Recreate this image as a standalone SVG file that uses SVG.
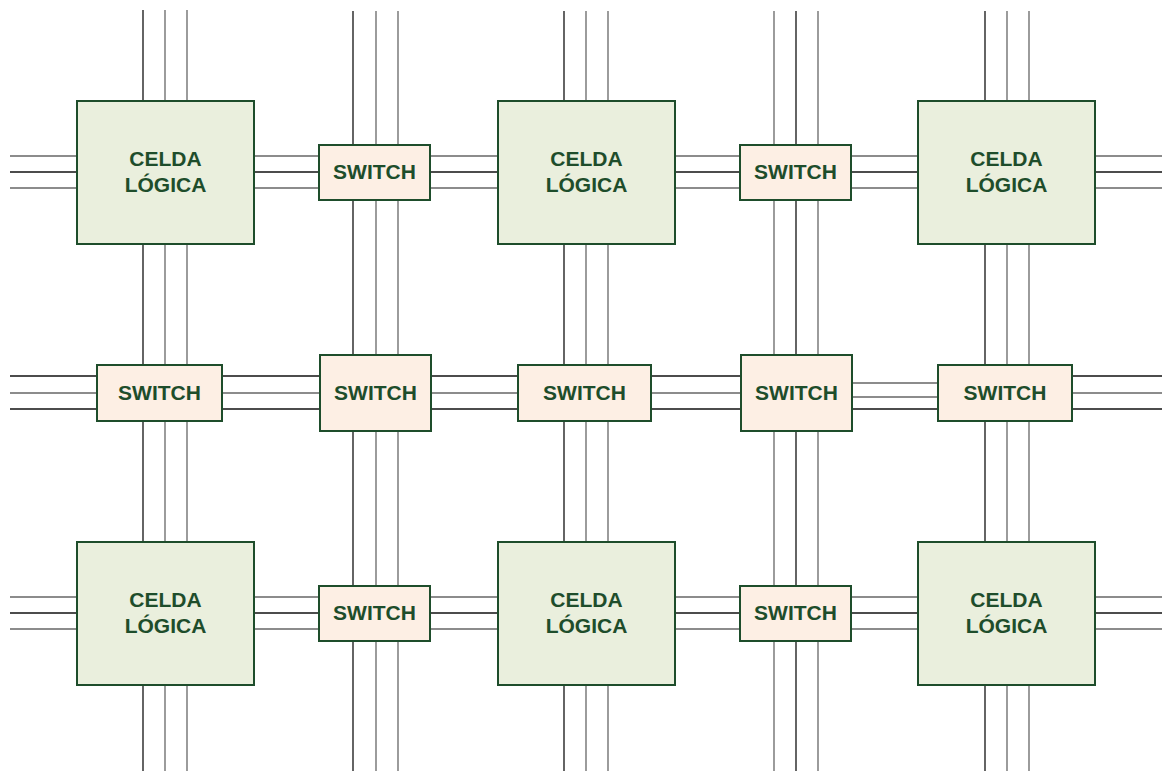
<svg xmlns="http://www.w3.org/2000/svg" width="1162" height="771" viewBox="0 0 1162 771">
<style>
.k{stroke:#111;stroke-width:1.3;fill:none}
.g{stroke:#666;stroke-width:1.3;fill:none}
.cell{fill:#eaefdd;stroke:#1e4d2b;stroke-width:2}
.sw{fill:#fdefe4;stroke:#1e4d2b;stroke-width:2}
text{font-family:"Liberation Sans",Arial,sans-serif;font-weight:bold;font-size:21px;fill:#1e4d2b;text-anchor:middle}
</style>
<rect width="1162" height="771" fill="#fff"/>
<g id="connectors">
<!-- vertical wire bundles -->
<line class="k" x1="143" y1="10" x2="143" y2="771"/><line class="g" x1="165" y1="10" x2="165" y2="771"/><line class="g" x1="187" y1="10" x2="187" y2="771"/>
<line class="k" x1="353" y1="11" x2="353" y2="771"/><line class="g" x1="376" y1="11" x2="376" y2="771"/><line class="g" x1="398" y1="11" x2="398" y2="771"/>
<line class="k" x1="564" y1="11" x2="564" y2="771"/><line class="g" x1="586" y1="11" x2="586" y2="771"/><line class="g" x1="608" y1="11" x2="608" y2="771"/>
<line class="g" x1="774" y1="11" x2="774" y2="771"/><line class="k" x1="796" y1="11" x2="796" y2="771"/><line class="g" x1="818" y1="11" x2="818" y2="771"/>
<line class="k" x1="985" y1="11" x2="985" y2="771"/><line class="g" x1="1007" y1="11" x2="1007" y2="771"/><line class="g" x1="1029" y1="11" x2="1029" y2="771"/>
<!-- top row -->
<line class="g" x1="10" y1="156" x2="1162" y2="156"/><line class="k" x1="10" y1="172" x2="1162" y2="172"/><line class="g" x1="10" y1="188" x2="1162" y2="188"/>
<!-- middle row -->
<line class="k" x1="10" y1="376" x2="790" y2="376"/><line class="g" x1="10" y1="393" x2="790" y2="393"/><line class="k" x1="10" y1="409" x2="1162" y2="409"/>
<line class="g" x1="851" y1="383" x2="939" y2="383"/><line class="g" x1="851" y1="397" x2="939" y2="397"/>
<line class="k" x1="1071" y1="376" x2="1162" y2="376"/><line class="g" x1="1071" y1="393" x2="1162" y2="393"/>
<!-- bottom row -->
<line class="g" x1="10" y1="597" x2="1162" y2="597"/><line class="k" x1="10" y1="613" x2="1162" y2="613"/><line class="g" x1="10" y1="629" x2="1162" y2="629"/>
</g>
<g id="cell-1-1"><rect class="cell" x="77" y="101" width="177" height="143"/><text x="165.5" y="166">CELDA</text><text x="165.5" y="192">LÓGICA</text></g>
<g id="cell-1-3"><rect class="cell" x="498" y="101" width="177" height="143"/><text x="586.5" y="166">CELDA</text><text x="586.5" y="192">LÓGICA</text></g>
<g id="cell-1-5"><rect class="cell" x="918" y="101" width="177" height="143"/><text x="1006.5" y="166">CELDA</text><text x="1006.5" y="192">LÓGICA</text></g>
<g id="cell-3-1"><rect class="cell" x="77" y="542" width="177" height="143"/><text x="165.5" y="607">CELDA</text><text x="165.5" y="633">LÓGICA</text></g>
<g id="cell-3-3"><rect class="cell" x="498" y="542" width="177" height="143"/><text x="586.5" y="607">CELDA</text><text x="586.5" y="633">LÓGICA</text></g>
<g id="cell-3-5"><rect class="cell" x="918" y="542" width="177" height="143"/><text x="1006.5" y="607">CELDA</text><text x="1006.5" y="633">LÓGICA</text></g>
<g id="sw-1-2"><rect class="sw" x="319" y="145" width="111" height="55"/><text x="374.5" y="179">SWITCH</text></g>
<g id="sw-1-4"><rect class="sw" x="740" y="145" width="111" height="55"/><text x="795.5" y="179">SWITCH</text></g>
<g id="sw-3-2"><rect class="sw" x="319" y="586" width="111" height="55"/><text x="374.5" y="620">SWITCH</text></g>
<g id="sw-3-4"><rect class="sw" x="740" y="586" width="111" height="55"/><text x="795.5" y="620">SWITCH</text></g>
<g id="sw-2-1"><rect class="sw" x="97" y="365" width="125" height="56"/><text x="159.5" y="400">SWITCH</text></g>
<g id="sw-2-2"><rect class="sw" x="320" y="355" width="111" height="76"/><text x="375.5" y="400">SWITCH</text></g>
<g id="sw-2-3"><rect class="sw" x="518" y="365" width="133" height="56"/><text x="584.5" y="400">SWITCH</text></g>
<g id="sw-2-4"><rect class="sw" x="741" y="355" width="111" height="76"/><text x="796.5" y="400">SWITCH</text></g>
<g id="sw-2-5"><rect class="sw" x="938" y="365" width="134" height="56"/><text x="1005" y="400">SWITCH</text></g>
</svg>
